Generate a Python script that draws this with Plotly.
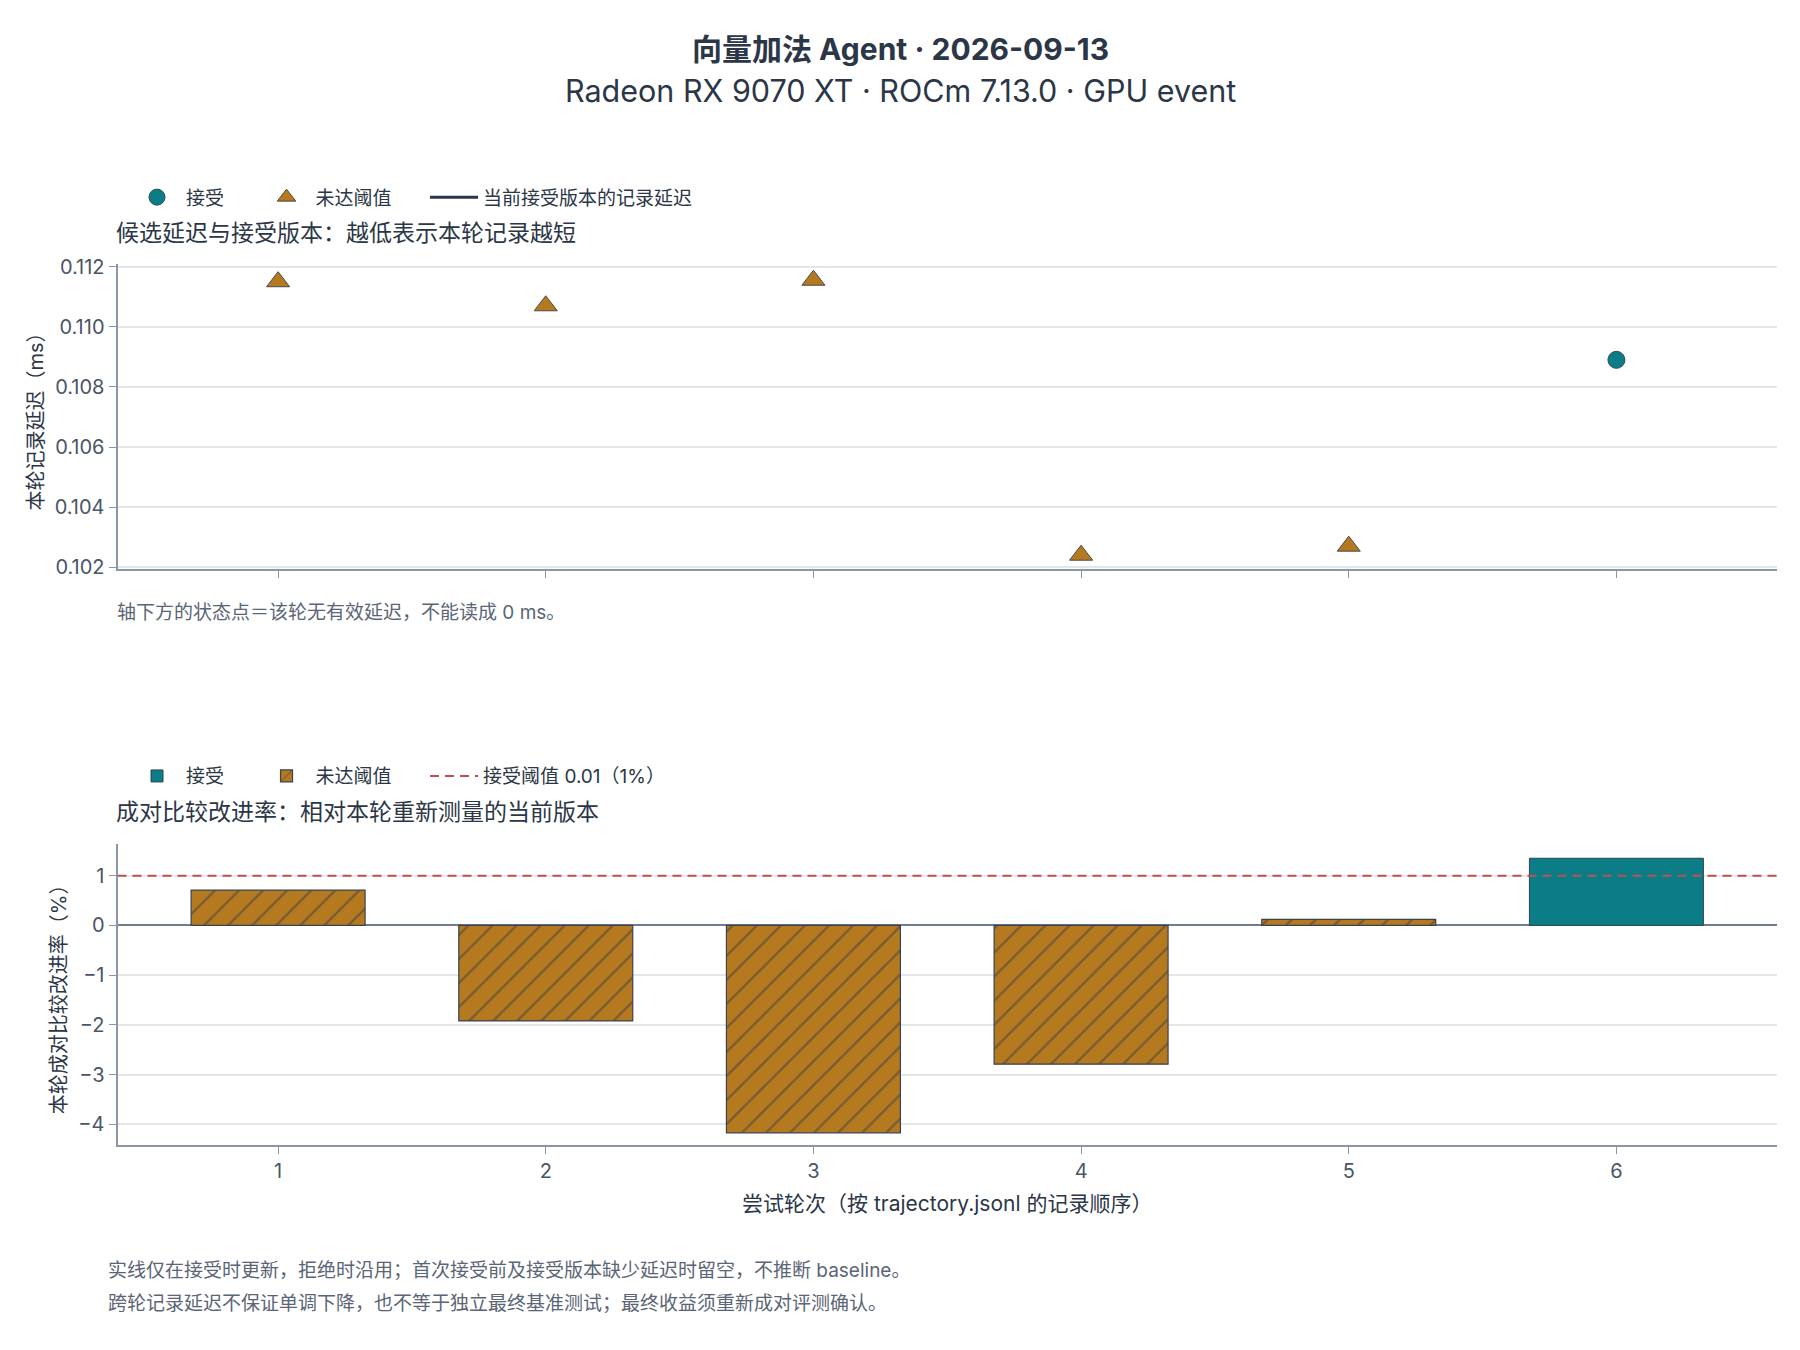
import plotly.graph_objects as go

# 数据
rounds = [1, 2, 3, 4, 5, 6]
latency_ms = [0.1115, 0.1107, 0.11155, 0.1024, 0.1027, 0.1089]
accepted = [False, False, False, False, False, True]
improve_pct = [0.71, -1.92, -4.17, -2.79, 0.12, 1.35]
threshold_pct = 1.0

TEAL = "#0b7d87"
OCHRE = "#b5791f"
INK = "#2b3646"
MUTED = "#5a6575"
AXIS = "#8a96a8"
GRID = "#e3e6ea"
FONT = "Inter, 'Noto Sans CJK SC'"
PAD = "\u2003\u2002"  # 图例项之间的间距

acc_x = [r for r, a in zip(rounds, accepted) if a]
acc_lat = [v for v, a in zip(latency_ms, accepted) if a]
rej_x = [r for r, a in zip(rounds, accepted) if not a]
rej_lat = [v for v, a in zip(latency_ms, accepted) if not a]
acc_imp = [v for v, a in zip(improve_pct, accepted) if a]
rej_imp = [v for v, a in zip(improve_pct, accepted) if not a]


def py(px):
    # 像素位置（自顶部）-> paper 坐标
    return 1 - px / 1350


fig = go.Figure()

# 上图：候选延迟
fig.add_trace(go.Scatter(
    x=acc_x, y=acc_lat, mode="markers", name="接受" + PAD,
    marker=dict(symbol="circle", size=17, color=TEAL, line=dict(color="#2f4a55", width=1)),
    xaxis="x", yaxis="y", legend="legend"))
fig.add_trace(go.Scatter(
    x=rej_x, y=rej_lat, mode="markers", name="未达阈值" + PAD,
    marker=dict(symbol="triangle-up", size=20, color=OCHRE, line=dict(color="#4a4a4a", width=1)),
    xaxis="x", yaxis="y", legend="legend"))
fig.add_trace(go.Scatter(
    x=acc_x, y=acc_lat, mode="lines", name="当前接受版本的记录延迟",
    line=dict(color=INK, width=3, shape="hv"),
    xaxis="x", yaxis="y", legend="legend"))

# 下图：成对比较改进率
fig.add_trace(go.Bar(
    x=acc_x, y=acc_imp, name="接受" + PAD, width=0.65,
    marker=dict(color=TEAL, line=dict(color="#2f4252", width=1)),
    xaxis="x2", yaxis="y2", legend="legend2"))
fig.add_trace(go.Bar(
    x=rej_x, y=rej_imp, name="未达阈值" + PAD, width=0.65,
    marker=dict(color=OCHRE, line=dict(color="#3a4250", width=1.2),
                pattern=dict(shape="/", fgcolor="#363d47", bgcolor=OCHRE, size=17, solidity=0.13)),
    xaxis="x2", yaxis="y2", legend="legend2"))
fig.add_trace(go.Scatter(
    x=[0.4, 6.6], y=[threshold_pct, threshold_pct], mode="lines",
    name="接受阈值 0.01（1%）",
    line=dict(color="#c0504d", width=2, dash="9px,6px"),
    xaxis="x2", yaxis="y2", legend="legend2"))

xdom = [109.5 / 1800, 1769 / 1800]
axis_common = dict(
    showline=True, linecolor=AXIS, linewidth=2,
    ticks="outside", ticklen=7, tickcolor=AXIS,
    tickfont=dict(size=20, color="#4a5566"),
)
legend_common = dict(orientation="h", xanchor="left", yanchor="middle", itemwidth=48,
                     font=dict(size=19, color=INK), bgcolor="rgba(0,0,0,0)")

fig.update_layout(
    width=1800, height=1350,
    paper_bgcolor="white", plot_bgcolor="white",
    font=dict(family=FONT, color=INK),
    margin=dict(l=0, r=0, t=0, b=0),
    xaxis=dict(domain=xdom, anchor="y", range=[0.4, 6.6], tickvals=rounds,
               showticklabels=False, showgrid=False, **axis_common),
    yaxis=dict(domain=[py(559), py(250)], anchor="x",
               range=[0.10195, 0.11208], tickvals=[0.102, 0.104, 0.106, 0.108, 0.110, 0.112],
               tickformat=".3f", showgrid=True, gridcolor=GRID, gridwidth=1.5, zeroline=False,
               title=dict(text="本轮记录延迟（ms）", font=dict(size=20, color=INK), standoff=6),
               **axis_common),
    xaxis2=dict(domain=xdom, anchor="y2", range=[0.4, 6.6], tickvals=rounds,
                showgrid=False,
                title=dict(text="尝试轮次（按 trajectory.jsonl 的记录顺序）", font=dict(size=21, color=INK),
                           standoff=14),
                **axis_common),
    yaxis2=dict(domain=[py(1144), py(838)], anchor="x2",
                range=[-4.416, 1.645], tickvals=[-4, -3, -2, -1, 0, 1],
                tickformat="d", showgrid=True, gridcolor=GRID, gridwidth=1.5,
                zeroline=True, zerolinecolor="#6f7d8f", zerolinewidth=2,
                title=dict(text="本轮成对比较改进率（%）", font=dict(size=20, color=INK), standoff=6),
                **axis_common),
    legend=dict(x=120 / 1800, y=py(182), **legend_common),
    legend2=dict(x=120 / 1800, y=py(769.5), **legend_common),
)

notes = [
    ("<b>向量加法 Agent · 2026-09-13</b>", 892, 31.5, "center", 30, INK),
    ("Radeon RX 9070 XT · ROCm 7.13.0 · GPU event", 892, 74, "center", 30.5, INK),
    ("候选延迟与接受版本：越低表示本轮记录越短", 106, 218.5, "left", 23, INK),
    ("轴下方的状态点＝该轮无有效延迟，不能读成 0 ms。", 107, 603, "left", 19, MUTED),
    ("成对比较改进率：相对本轮重新测量的当前版本", 106, 806, "left", 23, INK),
    ("实线仅在接受时更新，拒绝时沿用；首次接受前及接受版本缺少延迟时留空，不推断 baseline。", 98, 1271, "left", 19, MUTED),
    ("跨轮记录延迟不保证单调下降，也不等于独立最终基准测试；最终收益须重新成对评测确认。", 98, 1305, "left", 19, MUTED),
]
for text, x_px, y_px, anchor, size, color in notes:
    fig.add_annotation(text=text, x=x_px / 1800, y=py(y_px), xref="paper", yref="paper",
                       xanchor=anchor, yanchor="middle", showarrow=False,
                       font=dict(size=size, color=color))

fig.write_html("out.html")
